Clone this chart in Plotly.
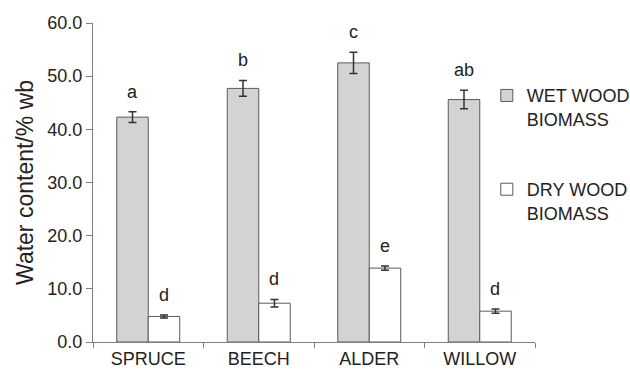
import plotly.graph_objects as go

species = ["SPRUCE", "BEECH", "ALDER", "WILLOW"]
wet_vals = [42.3, 47.7, 52.5, 45.6]
wet_err = [1.0, 1.5, 2.0, 1.75]
dry_vals = [4.8, 7.3, 13.9, 5.8]
dry_err = [0.3, 0.7, 0.4, 0.4]
wet_letters = ["a", "b", "c", "ab"]
dry_letters = ["d", "d", "e", "d"]
y_ticks = [0, 10, 20, 30, 40, 50, 60]

FONT = "Liberation Sans, Arial, sans-serif"
TXT = "#222222"
AX = "#7f7f7f"

fig = go.Figure()
fig.add_trace(go.Bar(
    x=species, y=wet_vals, name="WET WOOD<br>BIOMASS", legendgroup="wet",
    marker=dict(color="#d3d3d3", line=dict(color="#5a5a5a", width=1)),
    error_y=dict(type="data", array=wet_err, color="#333333", thickness=1.5, width=4),
))
fig.add_trace(go.Bar(
    x=species, y=dry_vals, name="DRY WOOD<br>BIOMASS", legendgroup="dry",
    marker=dict(color="#ffffff", line=dict(color="#5a5a5a", width=1)),
    error_y=dict(type="data", array=dry_err, color="#333333", thickness=1.5, width=4),
))

# letters above bars
for i, s in enumerate(species):
    fig.add_annotation(x=s, y=wet_vals[i] + wet_err[i], text=wet_letters[i], xref="x", yref="y",
                       showarrow=False, yanchor="bottom", yshift=8, xshift=-15.5,
                       font=dict(family=FONT, size=18, color=TXT))
    fig.add_annotation(x=s, y=dry_vals[i] + dry_err[i], text=dry_letters[i], xref="x", yref="y",
                       showarrow=False, yanchor="bottom", yshift=8, xshift=15.5,
                       font=dict(family=FONT, size=18, color=TXT))

fig.update_layout(
    width=630, height=372,
    margin=dict(l=93, r=95, t=23, b=30, autoexpand=False),
    paper_bgcolor="white", plot_bgcolor="white",
    barmode="group", bargap=0.43, bargroupgap=0,
    font=dict(family=FONT, size=18, color=TXT),
    showlegend=True,
    legend=dict(x=0.891, y=0.83, xanchor="left", yanchor="top",
                traceorder="grouped", tracegroupgap=44, valign="top",
                font=dict(family=FONT, size=18, color=TXT),
                bgcolor="rgba(0,0,0,0)"),
    xaxis=dict(showline=True, linecolor=AX, linewidth=1, ticks="outside", tickson="boundaries",
               ticklen=5, tickcolor=AX, showgrid=False, zeroline=False,
               tickfont=dict(family=FONT, size=18, color=TXT)),
    yaxis=dict(range=[0, 60], tickvals=y_ticks, ticktext=[f"{v:.1f}" for v in y_ticks],
               showline=True, linecolor=AX, linewidth=1, ticks="outside", ticklen=6,
               tickcolor=AX, showgrid=False, zeroline=False,
               tickfont=dict(family=FONT, size=18, color=TXT),
               title=dict(text="Water content/% wb", standoff=7,
                          font=dict(family=FONT, size=23, color=TXT))),
)

fig.write_html("out.html")
